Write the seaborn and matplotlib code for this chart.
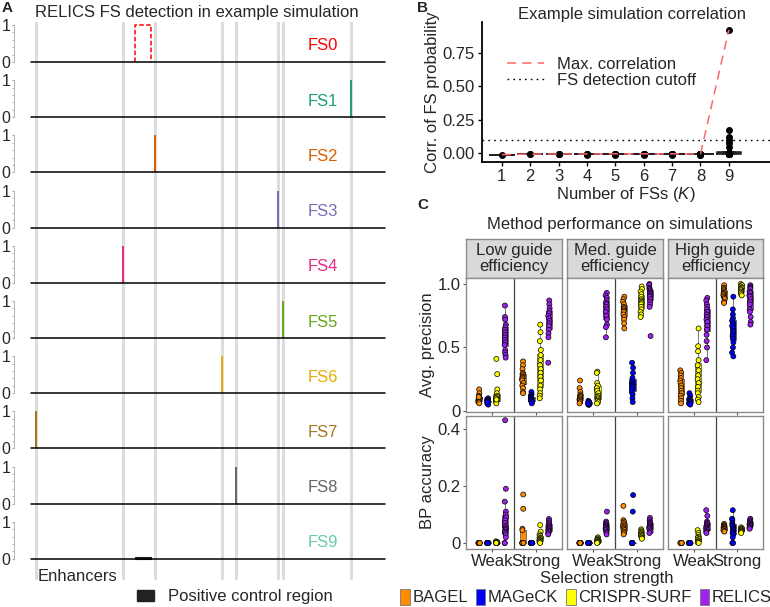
import numpy as np
import pandas as pd
import matplotlib
matplotlib.use("Agg")
import matplotlib.pyplot as plt
from matplotlib.patches import Patch
from matplotlib.lines import Line2D
import seaborn as sns

sns.set_style("white")
plt.rcParams["font.family"] = ["Liberation Sans", "DejaVu Sans"]
plt.rcParams["mathtext.fontset"] = "custom"
plt.rcParams["mathtext.it"] = "Liberation Sans:italic"
plt.rcParams["mathtext.rm"] = "Liberation Sans"

# ---------------- Panel A data ----------------
FS_NAMES = ["FS0", "FS1", "FS2", "FS3", "FS4", "FS5", "FS6", "FS7", "FS8", "FS9"]
FS_COLORS = ["#FF0000", "#1B9E77", "#D95F02", "#7570B3", "#E7298A",
             "#66A61E", "#E6AB02", "#A6761D", "#666666", "#66CDAA"]
ENHANCER_POS = [5, 92, 124, 191, 205, 247, 252, 320]      # kb
POS_CTRL_START = 104
POS_CTRL_END = 120
FS_PEAK_POS = [None, 320, 124, 247, 92, 252, 191, 5, 205, None]
FS_PEAK_PROB = [None, 1.0, 1.0, 1.0, 1.0, 1.0, 1.0, 1.0, 1.0, None]
FS0_REGION_PROB = 1.0
FS9_REGION_PROB = 0.05
REGION_END = 354

# ---------------- Panel B data ----------------
K_VALUES = [1, 2, 3, 4, 5, 6, 7, 8, 9]
CORR_K1 = [-0.012]
CORR_K2 = [-0.010, -0.008]
CORR_K3 = [-0.011, -0.009, -0.007]
CORR_K4 = [-0.012, -0.010, -0.009, -0.007]
CORR_K5 = [-0.012, -0.010, -0.009, -0.008, -0.006]
CORR_K6 = [-0.013, -0.011, -0.010, -0.009, -0.008, -0.006]
CORR_K7 = [-0.012, -0.011, -0.010, -0.009, -0.008, -0.007, -0.006]
CORR_K8 = [-0.013, -0.012, -0.010, -0.009, -0.009, -0.008, -0.007, -0.008]
CORR_K9 = [0.92, 0.17, 0.12, 0.10, 0.075, 0.045, 0.0, 0.0, 0.0, -0.001,
           -0.001, -0.002, -0.002, -0.002, -0.003, -0.003, -0.003, -0.004,
           -0.004, -0.005, -0.006, -0.008, -0.009, -0.010]
DETECTION_CUTOFF = 0.1

# ---------------- Panel C data ----------------
METHODS = ["BAGEL", "MAGeCK", "CRISPR-SURF", "RELICS"]
METHOD_COLORS = ["#FF8C00", "#0000FF", "#FFFF00", "#A020F0"]
EFFICIENCIES = ["Low guide\nefficiency", "Med. guide\nefficiency", "High guide\nefficiency"]
STRENGTHS = ["Weak", "Strong"]

# Avg. precision
AP_LOW_WEAK_BAGEL = [0.17, 0.14, 0.12, 0.11, 0.10, 0.10, 0.09, 0.09, 0.08, 0.08, 0.07, 0.07, 0.06, 0.11]
AP_LOW_WEAK_MAGECK = [0.10, 0.09, 0.09, 0.08, 0.08, 0.08, 0.07, 0.07, 0.07, 0.06, 0.06, 0.05, 0.08, 0.07]
AP_LOW_WEAK_SURF = [0.41, 0.29, 0.17, 0.14, 0.12, 0.11, 0.10, 0.10, 0.09, 0.08, 0.08, 0.07, 0.06, 0.09]
AP_LOW_WEAK_RELICS = [0.83, 0.74, 0.72, 0.68, 0.66, 0.64, 0.62, 0.60, 0.58, 0.56, 0.54, 0.52, 0.48, 0.46, 0.44, 0.42]
AP_LOW_STRONG_BAGEL = [0.39, 0.36, 0.33, 0.30, 0.29, 0.28, 0.27, 0.26, 0.25, 0.24, 0.22, 0.20, 0.18, 0.15, 0.14]
AP_LOW_STRONG_MAGECK = [0.15, 0.13, 0.12, 0.11, 0.10, 0.10, 0.09, 0.09, 0.08, 0.08, 0.07, 0.06]
AP_LOW_STRONG_SURF = [0.68, 0.62, 0.55, 0.48, 0.44, 0.40, 0.36, 0.33, 0.30, 0.27, 0.24, 0.20, 0.17, 0.14, 0.12, 0.10]
AP_LOW_STRONG_RELICS = [0.87, 0.84, 0.81, 0.79, 0.77, 0.75, 0.73, 0.71, 0.69, 0.67, 0.64, 0.61, 0.58, 0.38]
AP_MED_WEAK_BAGEL = [0.24, 0.18, 0.15, 0.13, 0.12, 0.11, 0.10, 0.09, 0.09, 0.08, 0.07, 0.06]
AP_MED_WEAK_MAGECK = [0.08, 0.07, 0.07, 0.06, 0.06, 0.06, 0.05, 0.05, 0.05, 0.07, 0.06]
AP_MED_WEAK_SURF = [0.31, 0.30, 0.22, 0.20, 0.18, 0.16, 0.14, 0.12, 0.11, 0.10, 0.09, 0.08, 0.07, 0.06]
AP_MED_WEAK_RELICS = [0.93, 0.91, 0.89, 0.87, 0.85, 0.84, 0.82, 0.80, 0.78, 0.75, 0.72, 0.68, 0.66, 0.58]
AP_MED_STRONG_BAGEL = [0.90, 0.88, 0.86, 0.84, 0.82, 0.81, 0.80, 0.79, 0.78, 0.76, 0.74, 0.72, 0.69, 0.65]
AP_MED_STRONG_MAGECK = [0.38, 0.34, 0.30, 0.26, 0.24, 0.22, 0.21, 0.20, 0.19, 0.17, 0.15, 0.13, 0.10, 0.07]
AP_MED_STRONG_SURF = [0.98, 0.96, 0.94, 0.92, 0.90, 0.88, 0.87, 0.86, 0.85, 0.84, 0.82, 0.80, 0.78, 0.76, 0.74]
AP_MED_STRONG_RELICS = [1.00, 0.99, 0.97, 0.96, 0.95, 0.94, 0.93, 0.92, 0.91, 0.90, 0.88, 0.86, 0.84, 0.82, 0.59]
AP_HIGH_WEAK_BAGEL = [0.32, 0.30, 0.28, 0.26, 0.24, 0.22, 0.20, 0.18, 0.16, 0.14, 0.12, 0.10, 0.08, 0.06]
AP_HIGH_WEAK_MAGECK = [0.14, 0.12, 0.10, 0.09, 0.08, 0.08, 0.07, 0.07, 0.06, 0.06, 0.05]
AP_HIGH_WEAK_SURF = [0.65, 0.51, 0.47, 0.40, 0.36, 0.32, 0.28, 0.25, 0.22, 0.19, 0.16, 0.14, 0.11, 0.09, 0.07]
AP_HIGH_WEAK_RELICS = [0.89, 0.87, 0.84, 0.82, 0.80, 0.78, 0.76, 0.74, 0.72, 0.70, 0.67, 0.64, 0.60, 0.55, 0.50, 0.40]
AP_HIGH_STRONG_BAGEL = [0.99, 0.97, 0.96, 0.95, 0.94, 0.93, 0.92, 0.92, 0.91, 0.90, 0.89, 0.88, 0.86, 0.85]
AP_HIGH_STRONG_MAGECK = [0.90, 0.80, 0.76, 0.73, 0.71, 0.69, 0.67, 0.65, 0.63, 0.61, 0.59, 0.57, 0.54, 0.50, 0.46, 0.43]
AP_HIGH_STRONG_SURF = [1.00, 0.99, 0.99, 0.98, 0.97, 0.97, 0.96, 0.95, 0.95, 0.94, 0.93, 0.92, 0.91]
AP_HIGH_STRONG_RELICS = [0.99, 0.98, 0.97, 0.96, 0.94, 0.93, 0.91, 0.90, 0.88, 0.86, 0.84, 0.80, 0.78, 0.74, 0.70, 0.68]

# BP accuracy
BP_LOW_WEAK_BAGEL = [0.0] * 12
BP_LOW_WEAK_MAGECK = [0.0] * 12
BP_LOW_WEAK_SURF = [0.006, 0.004, 0.003, 0.002, 0.001, 0.0, 0.0, 0.0, 0.0, 0.0, 0.0, 0.0]
BP_LOW_WEAK_RELICS = [0.43, 0.19, 0.145, 0.11, 0.10, 0.09, 0.08, 0.07, 0.06, 0.055, 0.05, 0.045, 0.04, 0.035, 0.03, 0.02, 0.0, 0.0]
BP_LOW_STRONG_BAGEL = [0.17, 0.12, 0.05, 0.045, 0.0, 0.0, 0.0, 0.0, 0.0, 0.0, 0.0, 0.0]
BP_LOW_STRONG_MAGECK = [0.0] * 12
BP_LOW_STRONG_SURF = [0.063, 0.04, 0.03, 0.025, 0.02, 0.018, 0.015, 0.012, 0.01, 0.008, 0.005, 0.003, 0.0]
BP_LOW_STRONG_RELICS = [0.084, 0.078, 0.072, 0.066, 0.062, 0.058, 0.055, 0.052, 0.048, 0.045, 0.042, 0.038, 0.035, 0.03]
BP_MED_WEAK_BAGEL = [0.0] * 12
BP_MED_WEAK_MAGECK = [0.0] * 12
BP_MED_WEAK_SURF = [0.02, 0.016, 0.013, 0.011, 0.009, 0.007, 0.005, 0.003, 0.002, 0.0]
BP_MED_WEAK_RELICS = [0.11, 0.075, 0.07, 0.065, 0.062, 0.058, 0.055, 0.052, 0.048, 0.045, 0.04, 0.035, 0.03]
BP_MED_STRONG_BAGEL = [0.13, 0.08, 0.075, 0.07, 0.065, 0.062, 0.058, 0.055, 0.052, 0.048, 0.045, 0.04, 0.035, 0.03]
BP_MED_STRONG_MAGECK = [0.168, 0.11, 0.0, 0.0, 0.0, 0.0, 0.0, 0.0, 0.0, 0.0]
BP_MED_STRONG_SURF = [0.048, 0.044, 0.04, 0.037, 0.034, 0.031, 0.028, 0.025, 0.022, 0.018, 0.015]
BP_MED_STRONG_RELICS = [0.088, 0.08, 0.074, 0.07, 0.066, 0.062, 0.058, 0.055, 0.052, 0.048, 0.044, 0.04, 0.035]
BP_HIGH_WEAK_BAGEL = [0.0] * 12
BP_HIGH_WEAK_MAGECK = [0.0] * 12
BP_HIGH_WEAK_SURF = [0.045, 0.035, 0.028, 0.022, 0.018, 0.014, 0.01, 0.007, 0.004, 0.002, 0.0]
BP_HIGH_WEAK_RELICS = [0.115, 0.095, 0.075, 0.07, 0.066, 0.062, 0.058, 0.054, 0.05, 0.046, 0.042, 0.038, 0.035]
BP_HIGH_STRONG_BAGEL = [0.067, 0.063, 0.06, 0.058, 0.055, 0.053, 0.05, 0.048, 0.045, 0.042, 0.04]
BP_HIGH_STRONG_MAGECK = [0.115, 0.085, 0.08, 0.07, 0.065, 0.06, 0.055, 0.05, 0.045, 0.04, 0.035, 0.03, 0.02, 0.0, 0.0]
BP_HIGH_STRONG_SURF = [0.055, 0.052, 0.05, 0.048, 0.046, 0.044, 0.042, 0.04, 0.038, 0.035]
BP_HIGH_STRONG_RELICS = [0.085, 0.08, 0.075, 0.072, 0.069, 0.066, 0.063, 0.06, 0.057, 0.054, 0.05]

# ------------------------------------------------------------
W, H = 770, 607
fig = plt.figure(figsize=(W / 100, H / 100), dpi=100)


def rect(l, t, r, b):
    return [l / W, 1 - b / H, (r - l) / W, (b - t) / H]


FONT = 12

# ================= Panel A =================
A_LEFT, A_RIGHT = 14, 385
XL = (-17, REGION_END)
ov = fig.add_axes(rect(A_LEFT, 22, A_RIGHT, 580))
ov.set_xlim(XL)
ov.set_ylim(0, 1)
ov.axis("off")
for p in ENHANCER_POS:
    ov.axvline(p, color="#DCDCDC", lw=2.2, zorder=0)
ov.text(7, 0.006, "Enhancers", fontsize=FONT, va="center", ha="left")

PX_PER_UNIT = 37.0
for i, name in enumerate(FS_NAMES):
    yb = 62 + 55.2 * i
    ax = fig.add_axes(rect(A_LEFT, yb - 52, A_RIGHT, yb + 3))
    ax.patch.set_alpha(0)
    ax.set_xlim(XL)
    ax.set_ylim(-3 / PX_PER_UNIT, 52 / PX_PER_UNIT)
    for s in ["top", "right", "bottom"]:
        ax.spines[s].set_visible(False)
    ax.spines["left"].set_color("#AAAAAA")
    ax.spines["left"].set_linewidth(0.6)
    ax.spines["left"].set_bounds(0, 1)
    ax.set_yticks([0, 1])
    ax.set_yticklabels(["0", "1"], fontsize=11.5)
    ax.set_yticks(np.arange(0, 1.01, 0.2), minor=True)
    ax.tick_params(axis="y", which="major", length=1.5, pad=1, color="#AAAAAA", left=True)
    ax.tick_params(axis="y", which="minor", length=1.2, color="#AAAAAA", left=True)
    ax.set_xticks([])
    col = FS_COLORS[i]
    if i == 0:
        ax.plot([POS_CTRL_START, POS_CTRL_START, POS_CTRL_END, POS_CTRL_END],
                [0, FS0_REGION_PROB, FS0_REGION_PROB, 0],
                color=col, lw=1.1, ls=(0, (3, 1.5)))
    elif i == 9:
        ax.fill_between([POS_CTRL_START, POS_CTRL_END], 0, FS9_REGION_PROB,
                        color="#222222", lw=0.8, edgecolor="#222222")
    else:
        ax.vlines(FS_PEAK_POS[i], 0, FS_PEAK_PROB[i], color=col, lw=1.4)
    ax.plot([0, REGION_END], [0, 0], color="black", lw=1.1, clip_on=False)
    ax.text(307, 16 / PX_PER_UNIT, name, color=col, fontsize=FONT,
            ha="right", va="center")

fig.text(35 / W, 1 - 13 / H, "RELICS FS detection in example simulation",
         fontsize=FONT, ha="left", va="center")
fig.legend(handles=[Patch(facecolor="#222222", edgecolor="#222222")],
           labels=["Positive control region"], loc="center left",
           bbox_to_anchor=(122 / W, 1 - 597 / H), frameon=False,
           fontsize=FONT, handlelength=1.0, handleheight=0.6, handletextpad=0.85)

# ================= Panel B =================
axb = fig.add_axes(rect(482, 22, 770, 162))
corr_lists = [CORR_K1, CORR_K2, CORR_K3, CORR_K4, CORR_K5,
              CORR_K6, CORR_K7, CORR_K8, CORR_K9]
dfb = pd.DataFrame({
    "K": np.concatenate([[k] * len(v) for k, v in zip(K_VALUES, corr_lists)]),
    "corr": np.concatenate(corr_lists),
})
sns.boxplot(data=dfb, x="K", y="corr", native_scale=True, width=0.85,
            fill=False, color="#222222", linewidth=1.2, showfliers=False,
            whis=0, ax=axb)
sns.stripplot(data=dfb, x="K", y="corr", native_scale=True, jitter=False,
              color="black", size=5, ax=axb, zorder=3)
max_corr = [max(v) for v in corr_lists]
axb.plot(K_VALUES, max_corr, color="#FF6666", lw=1.1, ls=(0, (6, 4)), zorder=4)
axb.axhline(DETECTION_CUTOFF, color="black", lw=1.0, ls=(0, (1.2, 3)))
axb.set_xlim(0.3, 10.45)
axb.set_ylim(-0.067, 0.978)
axb.set_xticks(K_VALUES)
axb.set_xticklabels([str(k) for k in K_VALUES], fontsize=FONT)
axb.set_yticks([0, 0.25, 0.5, 0.75])
axb.set_yticklabels(["0.00", "0.25", "0.50", "0.75"], fontsize=FONT)
for s in ["top", "right"]:
    axb.spines[s].set_visible(False)
for s in ["left", "bottom"]:
    axb.spines[s].set_color("black")
    axb.spines[s].set_linewidth(1.3)
axb.tick_params(length=3, width=1, color="black", pad=2, left=True, bottom=True)
axb.set_xlabel("Number of FSs ($\\it{K}$)", fontsize=FONT, labelpad=1)
axb.set_ylabel("Corr. of FS probability", fontsize=FONT, labelpad=2)
axb.legend(handles=[Line2D([], [], color="#FF6666", lw=1.1, ls=(0, (6, 4))),
                    Line2D([], [], color="black", lw=1.0, ls=(0, (1.2, 3)))],
           labels=["Max. correlation", "FS detection cutoff"],
           loc="upper left", bbox_to_anchor=(0.065, 0.80), frameon=False,
           fontsize=FONT, handlelength=2.2, labelspacing=0.1, borderaxespad=0)
fig.text(632 / W, 1 - 15 / H, "Example simulation correlation",
         fontsize=FONT, ha="center", va="center")

# ================= Panel C =================
groups = {
    ("AP", 0, "Weak"): [AP_LOW_WEAK_BAGEL, AP_LOW_WEAK_MAGECK, AP_LOW_WEAK_SURF, AP_LOW_WEAK_RELICS],
    ("AP", 0, "Strong"): [AP_LOW_STRONG_BAGEL, AP_LOW_STRONG_MAGECK, AP_LOW_STRONG_SURF, AP_LOW_STRONG_RELICS],
    ("AP", 1, "Weak"): [AP_MED_WEAK_BAGEL, AP_MED_WEAK_MAGECK, AP_MED_WEAK_SURF, AP_MED_WEAK_RELICS],
    ("AP", 1, "Strong"): [AP_MED_STRONG_BAGEL, AP_MED_STRONG_MAGECK, AP_MED_STRONG_SURF, AP_MED_STRONG_RELICS],
    ("AP", 2, "Weak"): [AP_HIGH_WEAK_BAGEL, AP_HIGH_WEAK_MAGECK, AP_HIGH_WEAK_SURF, AP_HIGH_WEAK_RELICS],
    ("AP", 2, "Strong"): [AP_HIGH_STRONG_BAGEL, AP_HIGH_STRONG_MAGECK, AP_HIGH_STRONG_SURF, AP_HIGH_STRONG_RELICS],
    ("BP", 0, "Weak"): [BP_LOW_WEAK_BAGEL, BP_LOW_WEAK_MAGECK, BP_LOW_WEAK_SURF, BP_LOW_WEAK_RELICS],
    ("BP", 0, "Strong"): [BP_LOW_STRONG_BAGEL, BP_LOW_STRONG_MAGECK, BP_LOW_STRONG_SURF, BP_LOW_STRONG_RELICS],
    ("BP", 1, "Weak"): [BP_MED_WEAK_BAGEL, BP_MED_WEAK_MAGECK, BP_MED_WEAK_SURF, BP_MED_WEAK_RELICS],
    ("BP", 1, "Strong"): [BP_MED_STRONG_BAGEL, BP_MED_STRONG_MAGECK, BP_MED_STRONG_SURF, BP_MED_STRONG_RELICS],
    ("BP", 2, "Weak"): [BP_HIGH_WEAK_BAGEL, BP_HIGH_WEAK_MAGECK, BP_HIGH_WEAK_SURF, BP_HIGH_WEAK_RELICS],
    ("BP", 2, "Strong"): [BP_HIGH_STRONG_BAGEL, BP_HIGH_STRONG_MAGECK, BP_HIGH_STRONG_SURF, BP_HIGH_STRONG_RELICS],
}
rows = []
for (metric, eff, strength), lists in groups.items():
    for m, vals in zip(METHODS, lists):
        for v in vals:
            rows.append((metric, eff, strength, m, v))
dfc = pd.DataFrame(rows, columns=["metric", "eff", "Strength", "Method", "value"])
pal = dict(zip(METHODS, METHOD_COLORS))

np.random.seed(3)
COLS = [(466, 562), (567, 663), (668, 763)]
STRIP = (239, 278)
ROWS = {"AP": (278, 412), "BP": (416, 549)}
YLIMS = {"AP": (-0.008, 1.047), "BP": (-0.021, 0.445)}
YTICKS = {"AP": ([0, 0.5, 1.0], ["0", "0.5", "1.0"]),
          "BP": ([0, 0.2, 0.4], ["0", "0.2", "0.4"])}
YLABELS = {"AP": "Avg. precision", "BP": "BP accuracy"}
BORDER = "#8C8C8C"

for ci, (l, r) in enumerate(COLS):
    sax = fig.add_axes(rect(l, STRIP[0], r, STRIP[1]))
    sax.set_facecolor("#D9D9D9")
    sax.set_xticks([])
    sax.set_yticks([])
    for s in sax.spines.values():
        s.set_color(BORDER)
        s.set_linewidth(1)
    sax.text(0.5, 0.5, EFFICIENCIES[ci], ha="center", va="center",
             fontsize=FONT, transform=sax.transAxes, linespacing=1.05)
    for metric, (t, b) in ROWS.items():
        ax = fig.add_axes(rect(l, t, r, b))
        sub = dfc[(dfc.metric == metric) & (dfc.eff == ci)]
        sns.boxplot(data=sub, x="Strength", y="value", hue="Method",
                    order=STRENGTHS, hue_order=METHODS, palette=pal,
                    dodge=True, width=0.8, gap=0.3, showfliers=False,
                    linewidth=0.6, linecolor="#666666", saturation=1,
                    legend=False, ax=ax)
        sns.stripplot(data=sub, x="Strength", y="value", hue="Method",
                      order=STRENGTHS, hue_order=METHODS, palette=pal,
                      dodge=True, jitter=0.07, size=3.6, linewidth=0.5,
                      edgecolor="black", legend=False, ax=ax, zorder=3)
        ax.axvline(0.5, color="#444444", lw=0.9)
        ax.set_xlim(-0.6, 1.6)
        ax.set_ylim(*YLIMS[metric])
        for s in ax.spines.values():
            s.set_visible(True)
            s.set_color(BORDER)
            s.set_linewidth(1)
        ax.set_xlabel("")
        ax.set_ylabel("")
        ax.set_yticks(YTICKS[metric][0])
        if ci == 0:
            ax.set_yticklabels(YTICKS[metric][1], fontsize=FONT)
            ax.set_ylabel(YLABELS[metric], fontsize=FONT, labelpad=2)
            ax.tick_params(axis="y", length=2.5, color="#555555", pad=1.5, left=True)
        else:
            ax.set_yticklabels([])
            ax.tick_params(axis="y", length=0)
        ax.set_xticks([0, 1])
        if metric == "BP":
            ax.set_xticklabels(STRENGTHS, fontsize=FONT)
            ax.tick_params(axis="x", length=2.5, color="#555555", pad=1, bottom=True)
        else:
            ax.set_xticklabels([])
            ax.tick_params(axis="x", length=2.5, color="#555555", bottom=True)

fig.text(620 / W, 1 - 225 / H, "Method performance on simulations",
         fontsize=FONT, ha="center", va="center")
fig.text(607 / W, 1 - 578 / H, "Selection strength", fontsize=FONT,
         ha="center", va="center")
fig.legend(handles=[Patch(facecolor=c, edgecolor="#777777", lw=0.6) for c in METHOD_COLORS],
           labels=METHODS, ncol=4, loc="center",
           bbox_to_anchor=(586 / W, 1 - 597 / H), frameon=False, fontsize=FONT,
           handlelength=0.55, handleheight=1.1, handletextpad=0.15,
           columnspacing=0.5)

# panel letters
fig.text(2 / W, 1 - 8 / H, "A", fontsize=11, fontweight="bold", ha="left", va="center")
fig.text(417 / W, 1 - 8 / H, "B", fontsize=11, fontweight="bold", ha="left", va="center")
fig.text(417 / W, 1 - 205 / H, "C", fontsize=11, fontweight="bold", ha="left", va="center")

fig.savefig("out.png", dpi=100)
